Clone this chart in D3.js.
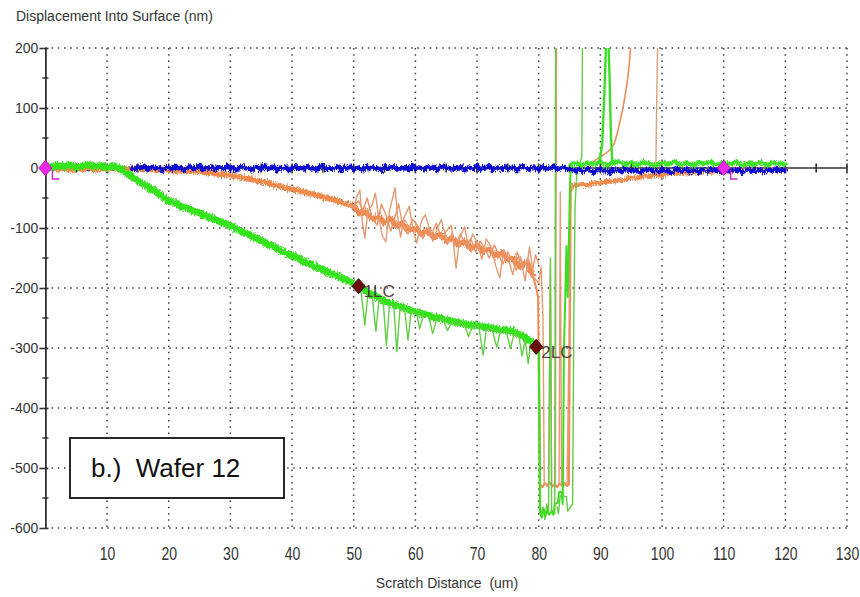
<!DOCTYPE html>
<html><head><meta charset="utf-8">
<script src="https://cdn.jsdelivr.net/npm/d3@7"></script>
<style>
html,body{margin:0;padding:0;background:#fff;}
svg{display:block;}
text{font-family:"Liberation Sans",Arial,sans-serif;}
</style></head><body>
<svg id="chart" width="860" height="597"></svg>
<script>
// ---------- axis values ----------
const xTicks = [10,20,30,40,50,60,70,80,90,100,110,120,130];
const xSmallTicks = [5,15,25,35,45,55,65,75,85,95,105,115,125];
const yTicks = [200,100,0,-100,-200,-300,-400,-500,-600];
const ySmallTicks = [150,50,-50,-150,-250,-350,-450,-550];

// ---------- scratch traces (distance in um, displacement in nm) ----------
// blue profile, sampled every 0.5 um from 14 um
const blueStart = 14, blueStep = 0.5;
const blueDepth = [
  1,-3,2,-1,4,-4,0,3,-2,1, -5,2,0,-3,4,-1,2,-4,1,3, -2,0,5,-3,1,-1,3,-4,2,0,
  -2,4,-3,1,-5,2,3,-1,0,-4, 2,1,-3,5,-2,0,3,-4,1,-1, 2,-5,0,4,-2,1,-3,3,-1,0,
  -4,2,5,-3,1,-2,0,3,-5,2, -1,4,-3,0,1,-4,3,-2,2,-1, 0,-5,4,-2,1,3,-3,0,-1,2,
  -4,5,-2,1,0,-3,3,-1,2,-5, 1,4,-2,0,-3,2,-1,3,-4,1, 0,-2,4,-3,2,-1,5,-4,0,1,
  -3,3,-2,0,2,-5,1,4,-1,-3, 2,0,-4,3,-2,1,-1,4,-3,0, 2,-2,-1,
  -3,-6,-2,-7,-4,-1,-5,-8,-3,-2, -6,-4,-9,-2,-5,-3,-7,-1,-4,-6,
  -2,-5,-8,-3,-4,-1,-6,-3,-7,-2, -5,-4,-9,-3,-1,-6,-4,-2,-7,-5,
  -3,-8,-2,-4,-6,-1,-5,-3,-7,-4, -2,-6,-3,-5,-1,-8,-4,-2,-6,-3,
  -5,-2,-7,-4,-3,-6,-1,-5,-3,-4
];

// dark pre-scan specks near the start, every 1 um from 0
const darkDepth = [0,-3,2,-4,1,-2,3,-5,0,-1,2,-4,1,-3,0,-2,3,-1,-4,0,-2];

// orange scratch, every 1 um from 0 to 79
const orangeDepth = [
  -1,2,-2,1,-3,0,-2,2,-3,0, -2,1,-3,-1,-2,0,-3,-1,-4,-2,
  -3,-5,-4,-6,-5,-6,-8,-8,-10,-11, -12,-14,-16,-18,-20,-23,-25,-28,-30,-33,
  -35,-38,-40,-43,-45,-48,-51,-53,-58,-61, -64,-76,-72,-85,-80,-92,-84,-97,-91,-104,
  -100,-110,-104,-116,-110,-122,-116,-128,-122,-134, -128,-140,-134,-147,-141,-154,-150,-165,-158,-178
];
const orangeCrash = [
  [79,-178],[79.6,-200],[79.9,-215],[80.2,-527],[80.6,-532],[81,-525],[81.4,-530],[81.8,-524],
  [82.2,-531],[82.6,-527],[83,-532],[83.4,-526],[83.8,-530],[84.2,-525],[84.6,-530],[84.9,-527],
  [85.2,-40],[85.5,-30]
];
// orange recovery, every 1 um from 86 to 120
const orangeTailDepth = [
  -29,-27,-29,-24,-26,-22,-23,-19,-20,-15, -17,-13,-14,-11,-13,-8,-10,-7,-9,-6,
  -8,-5,-7,-4,-6,-5,-3,-5,-2,-4, -3,-5,-2,-4,-3
];
const orangeThin = [
  [48,-57],[49,-60],[50,-66],[50.5,-48],[51,-37],[51.4,-90],[51.8,-117],[52.3,-72],[53,-62],
  [53.5,-42],[54,-78],[54.6,-112],[55.2,-123],[55.8,-72],[56.7,-33],[57.2,-88],[57.6,-115],
  [58.2,-82],[59,-64],[59.6,-102],[60.2,-125],[61,-88],[61.6,-78],[62.2,-98],[62.8,-122],
  [63.5,-102],[64.2,-86],[65.2,-127],[66,-108],[66.6,-167],[67.2,-116],[68,-98],[68.6,-132],
  [69.3,-110],[70,-124],[70.8,-152],[71.5,-118],[72.2,-130],[73,-162],[73.7,-183],[74.3,-136],
  [75,-148],[75.8,-178],[76.5,-140],[77.2,-158],[77.8,-188],[78.5,-132],[79.2,-182],[80,-192],
  [80.4,-165],[80.7,-255],[80.9,-527],[81.6,-529],[81.9,-160],[82.1,-528],[82.7,-530],[82.9,215]
];
const orangeThin2 = [[83.3,-528],[83.5,-40],[83.7,-528],[84.6,-528],[84.9,-300],[85.1,-30]];
const orangeThin3 = [
  [50,-62],[50.8,-55],[51.5,-70],[52.2,-50],[53,-85],[53.8,-95],[54.5,-60],[55.3,-80],[56,-105],
  [56.5,-88],[57.3,-60],[58,-100],[58.8,-110],[59.5,-85],[60.3,-95],[61.2,-118],[62,-100],
  [62.6,-112],[63.4,-92],[64.3,-120],[65,-105],[65.8,-96],[66.4,-130],[67.3,-110],[68.2,-128],
  [69,-118],[69.8,-140],[70.5,-122],[71.3,-135],[72,-150],[72.8,-128],[73.5,-145],[74.2,-160],
  [75,-140],[75.7,-155],[76.4,-170],[77,-148],[77.6,-165],[78.2,-150],[79,-170],[79.5,-145],[80,-160]
];
const orangeRise = [
  [87.5,-5],[88.4,6],[89.3,14],[90.2,20],[91.1,26],[91.8,33],[92.3,42],[92.8,60],[93.2,78],
  [93.6,97],[94,120],[94.4,147],[94.7,175],[94.9,200],[95,215]
];
const orangeSpike = [[98.8,-8],[99,-3],[99.15,120],[99.3,215]];

// green scratch, every 1 um from 0 to 79
const greenDepth = [
  3,1,4,2,5,1,3,6,2,4, 1,3,0,-7,-15,-21,-28,-34,-40,-48,
  -55,-58,-64,-67,-72,-75,-80,-83,-88,-92, -97,-101,-107,-110,-117,-121,-127,-131,-137,-141,
  -147,-150,-157,-160,-166,-169,-175,-178,-184,-187, -193,-197,-205,-212,-216,-222,-225,-230,-232,-237,
  -240,-243,-245,-249,-250,-253,-255,-258,-259,-262, -262,-265,-266,-268,-270,-271,-273,-278,-283,-292
];
const greenCrash = [
  [79,-292],[79.6,-298],[80,-302],[80.2,-575],[80.5,-583],[80.8,-568],[81.1,-580],[81.4,-570],
  [81.7,-578],[82.1,-572],[82.4,-578],[82.6,-560],[83.1,-558],[83.3,-540],[83.7,-540],[83.9,-560],
  [84.1,-300],[84.3,-220],[84.5,-130],[84.7,-215],[84.9,-120],[85.1,-20],[85.3,5]
];
// green after the crash, every 1 um from 86 to 120
const greenTailDepth = [
  8,4,9,6,10,5,8,11,6,9, 5,10,7,4,9,6,11,5,8,4, 9,7,10,5,8,6,11,4,8,6, 10,5,9,7,6
];
const greenThin = [
  [50,-191],[50.6,-199],[51.2,-206],[51.8,-262],[52.3,-210],[53,-214],[53.6,-272],[54.1,-219],
  [54.8,-224],[55.3,-296],[55.8,-228],[56.5,-231],[57,-306],[57.5,-235],[58.3,-238],[58.8,-287],
  [59.3,-240],[60.2,-242],[60.7,-268],[61.3,-246],[62.2,-248],[62.8,-276],[63.5,-251],[64.5,-253],
  [65.2,-271],[66,-256],[67,-259],[68,-261],[68.6,-281],[69.3,-263],[70.3,-265],[71,-312],
  [71.5,-268],[72.5,-270],[73.2,-299],[73.8,-272],[74.8,-274],[75.4,-301],[76,-277],[76.8,-281],
  [77.3,-313],[77.8,-286],[78.3,-326],[78.7,-292],[79.3,-296],[79.8,-306],[80.1,-302],[80.3,-578],
  [80.7,-565],[81,-586],[81.3,-560],[81.6,-576],[81.9,-150],[82.1,-570],[82.6,-576],[82.75,215]
];
const greenThin2 = [
  [83,-565],[83.2,-576],[83.5,-546],[84.5,-548],[84.7,-572],[85.5,-560],[85.7,-250],[85.9,-60],
  [86.2,-10],[86.6,4],[87,20],[87.1,215]
];
const greenSpike = [
  [89.4,6],[89.9,14],[90.3,40],[90.6,110],[90.8,170],[90.95,215],[91.3,215],[91.5,150],
  [91.7,60],[91.9,15],[92.2,7]
];

// markers
const scanEnds = [[0,0],[110,0]];
const criticalLoads = [
  {label:"1LC", x:50.8, y:-197},
  {label:"2LC", x:79.6, y:-298}
];

// ---------- drawing ----------
const svg = d3.select("#chart");
const x = d3.scaleLinear().domain([0,130]).range([45.4,847]);
const y = d3.scaleLinear().domain([-600,200]).range([528,48]);
const seq = (x0, dx, ys) => ys.map((v,i) => [x0 + i*dx, v]);
const line = d3.line().x(d => x(d[0])).y(d => y(d[1]));

const defs = svg.append("defs");
defs.append("clipPath").attr("id","plot")
  .append("rect").attr("x", x(0)).attr("y", y(200))
  .attr("width", x(130)-x(0)).attr("height", y(-600)-y(200));
// rough, sensor-noise texture for the thick traces
const fuzz = defs.append("filter").attr("id","fuzz").attr("filterUnits","userSpaceOnUse")
  .attr("x",0).attr("y",0).attr("width",860).attr("height",597);
fuzz.append("feTurbulence").attr("type","fractalNoise").attr("baseFrequency","0.9 0.35")
  .attr("numOctaves",2).attr("seed",7).attr("result","n");
fuzz.append("feDisplacementMap").attr("in","SourceGraphic").attr("in2","n")
  .attr("scale",6).attr("xChannelSelector","R").attr("yChannelSelector","G");

// dotted grid
const grid = svg.append("g").attr("stroke","#3c3c3c").attr("stroke-width",1.5)
  .attr("stroke-dasharray","1.5 4.7");
grid.selectAll("line.gv").data(xTicks).join("line").attr("class","gv")
  .attr("x1",d=>x(d)).attr("x2",d=>x(d)).attr("y1",y(200)).attr("y2",y(-600));
grid.selectAll("line.gh").data(yTicks.filter(d=>d!==0)).join("line").attr("class","gh")
  .attr("x1",x(0)).attr("x2",x(130)).attr("y1",d=>y(d)).attr("y2",d=>y(d));

// x axis along zero
const xAxisG = svg.append("g").attr("stroke","#333").attr("stroke-width",1.6);
xAxisG.append("line").attr("x1",x(0)).attr("x2",x(130)).attr("y1",y(0)).attr("y2",y(0));
xAxisG.selectAll("line.xt").data(xTicks.concat(xSmallTicks)).join("line").attr("class","xt")
  .attr("x1",d=>x(d)).attr("x2",d=>x(d)).attr("y1",y(0)-4.5).attr("y2",y(0)+4.5);

// traces
const plot = svg.append("g").attr("clip-path","url(#plot)")
  .attr("fill","none").attr("stroke-linejoin","round").attr("stroke-linecap","round");
function trace(data, color, width, rough){
  const p = plot.append("path").datum(data).attr("d", line)
    .attr("stroke", color).attr("stroke-width", width);
  if (rough) p.attr("filter","url(#fuzz)");
}
trace(seq(0,1,darkDepth), "#3c2a60", 1.2);
trace(seq(0,1,orangeDepth), "#f08a4e", 5.5, true);
trace(orangeThin3, "#eb9468", 1.4);
trace(orangeCrash, "#ef8a4c", 2);
trace([[85.5,-30],[86,-29]], "#f08a4e", 4.5, true);
trace(seq(86,1,orangeTailDepth), "#f08a4e", 4.5, true);
trace(orangeThin, "#e49a74", 1.4);
trace(orangeThin2, "#e49a74", 1.4);
trace(orangeRise, "#e8905c", 1.6);
trace(orangeSpike, "#d9a080", 1.4);
trace(seq(0,1,greenDepth), "#34e31c", 7, true);
trace(greenThin, "#62cc44", 1.4);
trace(greenCrash, "#3fdc22", 2);
trace(greenThin2, "#62cc44", 1.4);
trace(seq(blueStart, blueStep, blueDepth), "#0c10d0", 4.2, true);
trace([[85.3,5],[86,8]], "#3de326", 4.5, true);
trace(seq(86,1,greenTailDepth), "#3de326", 4.5, true);
trace(greenSpike, "#3ade24", 2.4);

// y axis
const yAxis = d3.axisLeft(y).tickValues(yTicks).tickSize(6).tickSizeOuter(0)
  .tickPadding(1).tickFormat(d => String(d));
const gy = svg.append("g").attr("transform",`translate(${x(0)},0)`).call(yAxis);
gy.select(".domain").attr("stroke","#333").attr("stroke-width",1.8);
gy.selectAll(".tick line").attr("stroke","#333").attr("stroke-width",1.6).attr("x2",-6).attr("x1",3);
gy.selectAll(".tick text").attr("fill","#333").attr("font-size",14)
  .attr("font-family","Liberation Sans, Arial, sans-serif");
gy.selectAll("line.ym").data(ySmallTicks).join("line").attr("class","ym")
  .attr("x1",-3).attr("x2",3).attr("y1",d=>y(d)).attr("y2",d=>y(d))
  .attr("stroke","#333").attr("stroke-width",1.6);

// x tick labels along the bottom
const xAxis = d3.axisBottom(x).tickValues(xTicks).tickSize(0).tickPadding(16)
  .tickFormat(d => String(d));
const gx = svg.append("g").attr("transform",`translate(0,${y(-600)})`).call(xAxis);
gx.select(".domain").remove();
gx.selectAll(".tick text").attr("fill","#333").attr("font-size",14)
  .attr("transform","scale(1,1.25)")
  .attr("font-family","Liberation Sans, Arial, sans-serif");

// scan start / end markers
const diamond = "M0,-7.5L6.5,0L0,7.5L-6.5,0Z";
svg.selectAll("path.se").data(scanEnds).join("path").attr("class","se")
  .attr("d", diamond).attr("transform", d => `translate(${x(d[0])},${y(d[1])})`)
  .attr("fill","#ea28e6").attr("stroke","#c010c0").attr("stroke-width",1);
svg.selectAll("path.sel").data(scanEnds).join("path").attr("class","sel")
  .attr("d","M7,2V11H14").attr("transform", d => `translate(${x(d[0])},${y(d[1])})`)
  .attr("fill","none").attr("stroke","#d020d0").attr("stroke-width",1.4);

// critical load markers
const cl = svg.selectAll("g.cl").data(criticalLoads).join("g").attr("class","cl")
  .attr("transform", d => `translate(${x(d.x)},${y(d.y)})`);
cl.append("text").attr("x",5).attr("y",11).attr("font-size",17)
  .attr("font-family","Liberation Sans, Arial, sans-serif")
  .attr("fill","#3f2a2a").attr("fill-opacity",0.9).text(d => d.label);
cl.append("path").attr("d", diamond).attr("fill","#6a0c0c").attr("stroke","#3a0505").attr("stroke-width",1);

// titles
svg.append("text").attr("x",16).attr("y",21).attr("font-size",14).attr("fill","#333")
  .text("Displacement Into Surface (nm)");
svg.append("text").attr("x",447).attr("y",588).attr("text-anchor","middle")
  .attr("font-size",14).attr("fill","#333").attr("xml:space","preserve")
  .text("Scratch Distance  (um)");

// sample label box
const box = svg.append("g");
box.append("rect").attr("x",70).attr("y",438).attr("width",214).attr("height",60)
  .attr("fill","#fff").attr("stroke","#111").attr("stroke-width",1.8);
box.append("text").attr("x",91).attr("y",477).attr("font-size",26)
  .attr("font-family","Lato, 'Open Sans', sans-serif").attr("fill","#111")
  .attr("xml:space","preserve").text("b.)  Wafer 12");
</script>
</body></html>
